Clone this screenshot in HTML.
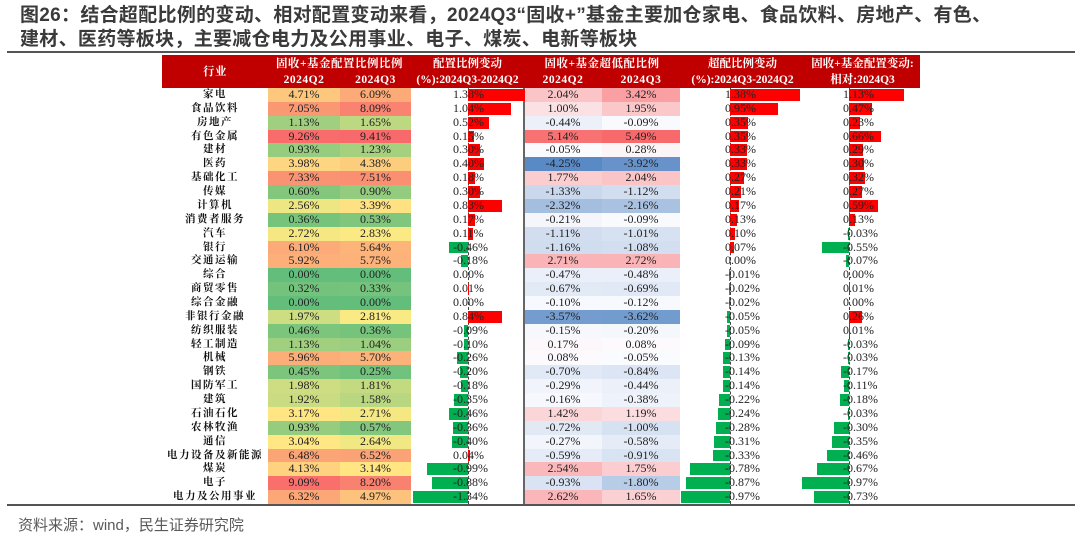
<!DOCTYPE html>
<html><head><meta charset="utf-8"><style>
body{margin:0;width:1080px;height:543px;background:#fff;position:relative;overflow:hidden;font-family:"Liberation Serif","Noto Serif CJK SC",serif;}
.abs{position:absolute;}
#title{left:20px;top:4px;font:bold 19px/24px "Liberation Sans","Noto Sans CJK SC",sans-serif;color:#3a3a3a;letter-spacing:0.3px;white-space:nowrap;}
.hdr{color:#fff;font-weight:bold;font-size:11.5px;line-height:16px;text-align:center;white-space:nowrap;letter-spacing:0.5px;}
.cell{font-size:12px;text-align:center;line-height:13.9px;color:#222;}
.nm{font-size:10.5px;font-weight:bold;text-align:center;letter-spacing:1.5px;color:#111;white-space:nowrap;}
.bt{font-size:12px;line-height:13.9px;color:#222;white-space:nowrap;}
</style></head><body>
<div id="title" class="abs">图26：结合超配比例的变动、相对配置变动来看，2024Q3“固收+”基金主要加仓家电、食品饮料、房地产、有色、<br>建材、医药等板块，主要减仓电力及公用事业、电子、煤炭、电新等板块</div>
<div class="abs" style="left:7px;top:51px;width:1068px;height:2px;background:#555"></div>
<div class="abs" style="left:162px;top:55px;width:758px;height:33px;background:#c00000"></div>
<div class="abs hdr" style="left:162px;top:64px;width:106px">行业</div>
<div class="abs hdr" style="left:268px;top:56px;width:143px">固收+基金配置比例比例</div>
<div class="abs hdr" style="left:268px;top:72px;width:72px">2024Q2</div>
<div class="abs hdr" style="left:340px;top:72px;width:71px">2024Q3</div>
<div class="abs hdr" style="left:411px;top:56px;width:113px;letter-spacing:0">配置比例变动<br>(%):2024Q3-2024Q2</div>
<div class="abs hdr" style="left:524px;top:56px;width:156px">固收+基金超低配比例</div>
<div class="abs hdr" style="left:524px;top:72px;width:78px">2024Q2</div>
<div class="abs hdr" style="left:602px;top:72px;width:78px">2024Q3</div>
<div class="abs hdr" style="left:680px;top:56px;width:125px;letter-spacing:0">超配比例变动<br>(%):2024Q3-2024Q2</div>
<div class="abs hdr" style="left:805px;top:56px;width:115px;letter-spacing:0">固收+基金配置变动:<br>相对:2024Q3</div>
<div id="tbl"></div>
<div class="abs" style="left:7px;top:504px;width:1068px;height:2px;background:#555"></div>
<div class="abs" style="left:18px;top:514px;font:15px 'Liberation Sans','Noto Sans CJK SC',sans-serif;color:#595959">资料来源：wind，民生证券研究院</div>
<script>
const industries=["家电","食品饮料","房地产","有色金属","建材","医药","基础化工","传媒","计算机","消费者服务","汽车","银行","交通运输","综合","商贸零售","综合金融","非银行金融","纺织服装","轻工制造","机械","钢铁","国防军工","建筑","石油石化","农林牧渔","通信","电力设备及新能源","煤炭","电子","电力及公用事业"];
const allocQ2=[4.71,7.05,1.13,9.26,0.93,3.98,7.33,0.60,2.56,0.36,2.72,6.10,5.92,0.00,0.32,0.00,1.97,0.46,1.13,5.96,0.45,1.98,1.92,3.17,0.93,3.04,6.48,4.13,9.09,6.32];
const allocQ3=[6.09,8.09,1.65,9.41,1.23,4.38,7.51,0.90,3.39,0.53,2.83,5.64,5.75,0.00,0.33,0.00,2.81,0.36,1.04,5.70,0.25,1.81,1.58,2.71,0.57,2.64,6.52,3.14,8.20,4.97];
const allocChg=[1.38,1.04,0.52,0.15,0.30,0.40,0.18,0.30,0.83,0.17,0.11,-0.46,-0.18,0.00,0.01,0.00,0.84,-0.09,-0.10,-0.26,-0.20,-0.18,-0.35,-0.46,-0.36,-0.40,0.04,-0.99,-0.88,-1.34];
const overQ2=[2.04,1.00,-0.44,5.14,-0.05,-4.25,1.77,-1.33,-2.32,-0.21,-1.11,-1.16,2.71,-0.47,-0.67,-0.10,-3.57,-0.15,0.17,0.08,-0.70,-0.29,-0.16,1.42,-0.72,-0.27,-0.59,2.54,-0.93,2.62];
const overQ3=[3.42,1.95,-0.09,5.49,0.28,-3.92,2.04,-1.12,-2.16,-0.09,-1.01,-1.08,2.72,-0.48,-0.69,-0.12,-3.62,-0.20,0.08,-0.05,-0.84,-0.44,-0.38,1.19,-1.00,-0.58,-0.91,1.75,-1.80,1.65];
const overChg=[1.38,0.95,0.35,0.35,0.33,0.33,0.27,0.21,0.17,0.13,0.10,0.07,0.00,-0.01,-0.02,-0.02,-0.05,-0.05,-0.09,-0.13,-0.14,-0.14,-0.22,-0.24,-0.28,-0.31,-0.33,-0.78,-0.87,-0.97];
const relChg=[1.13,0.47,0.23,0.66,0.29,0.30,0.32,0.27,0.59,0.13,-0.03,-0.55,-0.07,0.00,0.01,0.00,0.26,0.01,-0.03,-0.03,-0.17,-0.11,-0.18,-0.03,-0.30,-0.35,-0.46,-0.67,-0.97,-0.73];

const top0=88, rh=(504-88)/30;
const tbl=document.getElementById('tbl');
function lerp(a,b,t){return a.map((v,i)=>Math.round(v+(b[i]-v)*t));}
function gyr(v){const G=[99,190,123],Y=[255,235,132],R=[248,105,107];const mid=2.9,max=9.41;
 return v<=mid?lerp(G,Y,v/mid):lerp(Y,R,Math.min(1,(v-mid)/(max-mid)));}
function bwr(v){const B=[90,138,198],W=[252,252,255],R=[248,105,107];
 return v<0?lerp(W,B,Math.min(1,-v/4.25)):lerp(W,R,Math.min(1,v/5.49));}
function add(cls,style,text,name){const d=document.createElement('div');d.className='abs '+cls;d.setAttribute('style',style);if(text!==null)d.textContent=text;
 
 
 tbl.appendChild(d);return d;}
const pct=v=>v.toFixed(2)+'%';
function barCol(vals,axis,scale,textOff,name){
 const y0=top0, h=rh*vals.length;
 add('','left:'+axis+'px;top:'+y0+'px;width:0;height:'+h+'px;border-left:1px dashed #444;',null,name+'-axis');
 vals.forEach((v,i)=>{const y=top0+i*rh;const w=Math.abs(v)*scale;const x=v>=0?axis:axis-w;
  add('','left:'+x+'px;top:'+(y+1)+'px;width:'+w+'px;height:'+(rh-2)+'px;background:'+(v>=0?'#ff0000':'#00b050'),null,name+'-bar');
  add('bt','left:'+(axis+textOff)+'px;top:'+y+'px;',pct(v),name+'-label');});
}
industries.forEach((n,i)=>{const y=top0+i*rh;
 add('nm','left:162px;top:'+y+'px;width:106px;height:'+rh+'px;line-height:'+rh+'px;',n,'industry-name');
 let c=gyr(allocQ2[i]);add('cell','left:268px;top:'+y+'px;width:72px;height:'+rh+'px;background:rgb('+c+')',pct(allocQ2[i]),'alloc-q2-cell');
 c=gyr(allocQ3[i]);add('cell','left:340px;top:'+y+'px;width:71px;height:'+rh+'px;background:rgb('+c+')',pct(allocQ3[i]),'alloc-q3-cell');
 c=bwr(overQ2[i]);add('cell','left:524px;top:'+y+'px;width:78px;height:'+rh+'px;background:rgb('+c+')',pct(overQ2[i]),'over-q2-cell');
 c=bwr(overQ3[i]);add('cell','left:602px;top:'+y+'px;width:78px;height:'+rh+'px;background:rgb('+c+')',pct(overQ3[i]),'over-q3-cell');
});
add('','left:523px;top:'+top0+'px;width:2px;height:416px;background:#666',null,'separator-line');
barCol(allocChg,468,41,-15,'alloc-change');
barCol(overChg,730,51,-5,'over-change');
barCol(relChg,849,48.5,-6,'relative-change');
</script>
</body></html>
